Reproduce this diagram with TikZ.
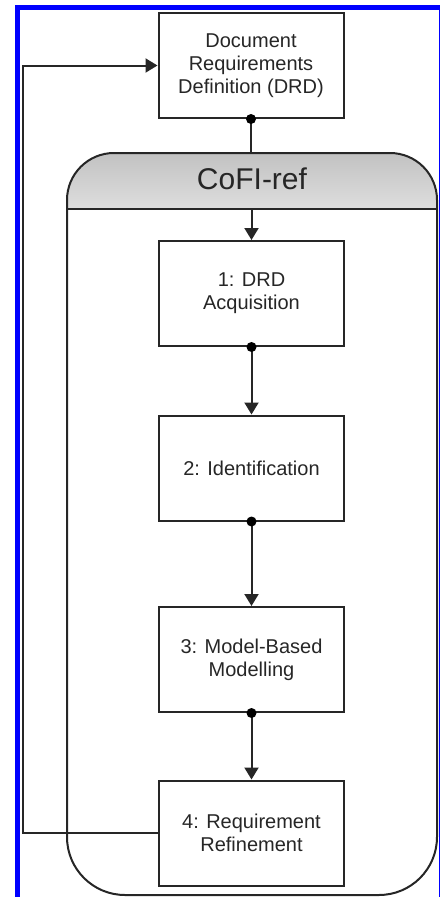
\documentclass[tikz,border=0pt]{standalone}
\usepackage{fontspec}
\setmainfont{Liberation Sans}
\usetikzlibrary{arrows.meta}
\definecolor{ink}{HTML}{262626}
\definecolor{frameblue}{RGB}{0,0,255}
\tikzset{
  stepbox/.style={draw=ink, line width=2pt, fill=white, minimum width=185pt,
    minimum height=105pt, inner sep=0pt, align=center, text=ink,
    font=\fontsize{20}{23}\selectfont},
  flow/.style={draw=ink, line width=2pt, -{Triangle[length=12pt,width=14pt]}},
  plain/.style={draw=ink, line width=2pt},
  dot/.style={fill=black}
}
\begin{document}
\begin{tikzpicture}[x=1pt,y=1pt]
\useasboundingbox (0,0) rectangle (440,-897);
% selection frame
\fill[frameblue] (15,-5) rectangle (20,-897);
\fill[frameblue] (15,-5) rectangle (440,-10);
\fill[frameblue] (438.5,-5) rectangle (440,-897);

% process container: shaded header and outline
\begin{scope}
  \clip (60,-140) rectangle (445,-209);
  \shade[top color=black!24, bottom color=black!3]
    (67,-260) [rounded corners=47] -- (67,-153) -- (437,-153) -- (437,-260);
\end{scope}
\draw[ink, line width=2pt] (67,-600) [rounded corners=47] -- (67,-153) -- (437,-153) -- (437,-600)
  [rounded corners=58] -- (437,-895) -- (67,-895) -- (67,-600);
\draw[ink, line width=2pt] (67,-209) -- (437,-209);
\node[text=ink, font=\fontsize{30}{30}\selectfont] (title) at (252,-179) {CoFI-ref};

% steps
\node[stepbox] (drd) at (251,-65.5) {Document\\Requirements\\Definition (DRD)};
\node[stepbox] (s1) at (251.5,-293.5) {1: DRD\\Acquisition};
\node[stepbox] (s2) at (251.5,-468) {2: Identification};
\node[stepbox] (s3) at (251.5,-659.5) {3: Model-Based\\Modelling};
\node[stepbox] (s4) at (251.5,-833) {4: Requirement\\Refinement};

\coordinate (ctop) at (drd.south |- 0,-153);
\coordinate (hbot) at (s1.north |- 0,-209);
\coordinate (back) at (23,-450);

% connectors
\draw[plain] (drd.south) -- (ctop);
\draw[flow] (hbot) -- (s1.north);
\draw[flow] (s1.south) -- (s2.north);
\draw[flow] (s2.south) -- (s3.north);
\draw[flow] (s3.south) -- (s4.north);
\draw[flow] (s4.west) -| (back) |- (drd.west);

\foreach \n in {drd,s1,s2,s3}
  \fill[dot] (\n.south) circle (5);
\end{tikzpicture}
\end{document}
